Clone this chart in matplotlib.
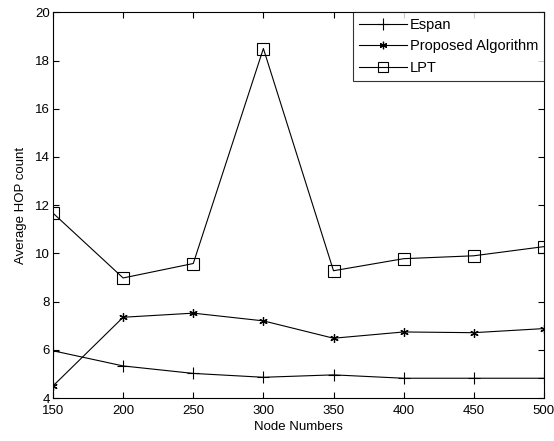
import numpy as np
import matplotlib.pyplot as plt

plt.rcParams['font.family'] = ['Liberation Sans', 'DejaVu Sans']

node_numbers = [150, 200, 250, 300, 350, 400, 450, 500]
espan = [5.96, 5.33, 5.02, 4.86, 4.96, 4.82, 4.82, 4.82]
proposed = [4.5, 7.35, 7.52, 7.2, 6.48, 6.74, 6.71, 6.88]
lpt = [11.67, 8.98, 9.58, 18.5, 9.28, 9.78, 9.9, 10.28]

fig = plt.figure(figsize=(5.54, 4.41), dpi=100)
ax = fig.add_axes([0.0957, 0.0975, 0.886, 0.8745])

# MATLAB-style asterisk marker
star = (6, 2, 0)

ax.plot(node_numbers, espan, color="black", lw=0.8, marker="+", ms=9,
        mew=0.8, label="Espan")
ax.plot(node_numbers, proposed, color="black", lw=0.8, marker=star, ms=6,
        mew=0.9, label="Proposed Algorithm")
ax.plot(node_numbers, lpt, color="black", lw=0.8, marker="s", ms=8,
        mfc="none", mew=0.8, label="LPT")

ax.set_xlim(150, 500)
ax.set_ylim(4, 20)
ax.set_xticks(np.arange(150, 501, 50))
ax.set_yticks(np.arange(4, 21, 2))
ax.tick_params(direction="in", top=True, right=True, length=4,
               width=0.8, labelsize=9.5)
ax.tick_params(axis="x", pad=5)
ax.tick_params(axis="y", pad=2)
for s in ax.spines.values():
    s.set_linewidth(0.8)

ax.set_xlabel("Node Numbers", fontsize=9.5, labelpad=3)
ax.set_ylabel("Average HOP count", fontsize=9.5, labelpad=6)

leg = ax.legend(loc="upper right", fontsize=10.5, frameon=True, fancybox=False,
                borderaxespad=0, handlelength=3.3, labelspacing=0.5,
                handletextpad=0.2, borderpad=0.4, markerscale=0.9)
leg.get_frame().set_edgecolor("black")
leg.get_frame().set_linewidth(0.8)

plt.savefig("out.png", dpi=100)
